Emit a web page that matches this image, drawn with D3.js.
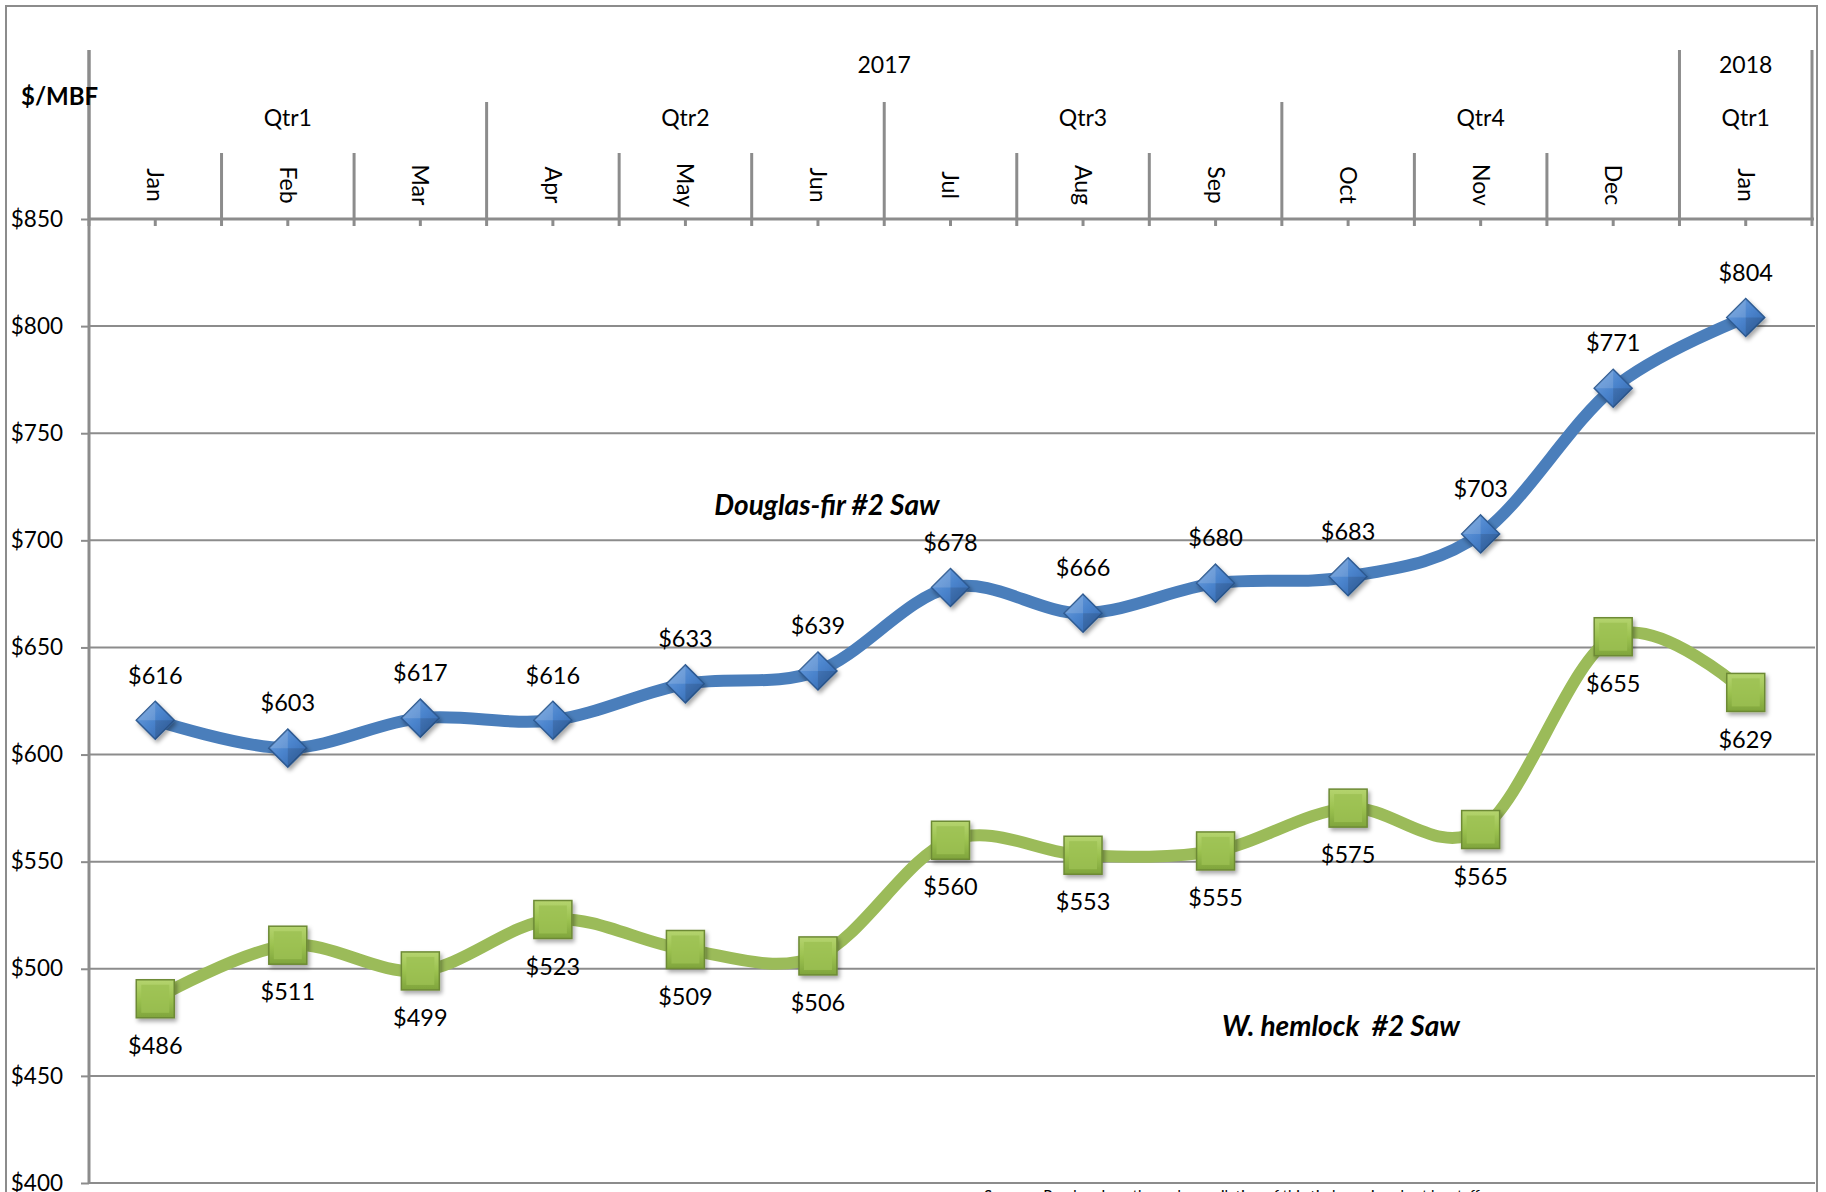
<!DOCTYPE html>
<html>
<head>
<meta charset="utf-8">
<script src="https://cdn.jsdelivr.net/npm/d3@7"></script>
<style>
  html, body { margin: 0; padding: 0; background: #fff; }
  svg { display: block; font-family: Lato, "Open Sans", sans-serif; }
</style>
</head>
<body>
<svg id="chart" width="1826" height="1192"></svg>
<script>
// ---- data ----
const months = ["Jan","Feb","Mar","Apr","May","Jun","Jul","Aug","Sep","Oct","Nov","Dec","Jan"];
const quarterLabels = ["Qtr1","Qtr2","Qtr3","Qtr4","Qtr1"];
const quarterStarts = [0,3,6,9,12];
const quarterSpans  = [3,3,3,3,1];
const yearLabels = ["2017","2018"];
const yearStarts = [0,12];
const yearSpans  = [12,1];
const douglasFir = [616,603,617,616,633,639,678,666,680,683,703,771,804];
const hemlock    = [486,511,499,523,509,506,560,553,555,575,565,655,629];
const yTicks = [400,450,500,550,600,650,700,750,800,850];
const seriesNames = ["Douglas-fir #2 Saw","W. hemlock  #2 Saw"];
const sourceNote = "Sources: Random Lengths and compilation of this timber price chart by staff";

// ---- layout ----
const svg = d3.select("#chart");
const pLeft = 89, pRight = 1812, pTop = 219, pBottom = 1183;
const gridRight = 1815;
const x = d3.scaleBand().domain(d3.range(months.length)).range([pLeft, pRight]);
const y = d3.scaleLinear().domain([400, 850]).range([pBottom, pTop]);
const bw = x.bandwidth();
const cx = i => x(i) + bw / 2;
const gray = "#8c8c8c";
const fs = 23;

// defs
const defs = svg.append("defs");
const sh = defs.append("filter").attr("id","shadow").attr("x","-50%").attr("y","-50%").attr("width","200%").attr("height","200%");
sh.append("feDropShadow").attr("dx",2).attr("dy",3).attr("stdDeviation",2.2).attr("flood-color","#000").attr("flood-opacity",0.35);
const gb = defs.append("linearGradient").attr("id","gBlue").attr("x1","0").attr("y1","0").attr("x2","1").attr("y2","1");
gb.append("stop").attr("offset","0").attr("stop-color","#6fa2e0");
gb.append("stop").attr("offset","0.5").attr("stop-color","#4a83cc");
gb.append("stop").attr("offset","1").attr("stop-color","#2f62a6");
const gg = defs.append("linearGradient").attr("id","gGreen").attr("x1","0").attr("y1","0").attr("x2","0").attr("y2","1");
gg.append("stop").attr("offset","0").attr("stop-color","#b5d46f");
gg.append("stop").attr("offset","0.5").attr("stop-color","#9cc250");
gg.append("stop").attr("offset","1").attr("stop-color","#7fa43c");

// outer border
svg.append("rect").attr("x",6).attr("y",6).attr("width",1811).attr("height",1200)
  .attr("fill","none").attr("stroke",gray).attr("stroke-width",2);

// gridlines
svg.append("g").selectAll("line").data(yTicks.filter(v => v !== 850)).join("line")
  .attr("x1", pLeft).attr("x2", gridRight)
  .attr("y1", d => y(d)).attr("y2", d => y(d))
  .attr("stroke", gray).attr("stroke-width", 2);

// y axis
const yAxis = svg.append("g").attr("transform", `translate(${pLeft},0)`)
  .call(d3.axisLeft(y).tickValues(yTicks).tickSize(8).tickPadding(18).tickFormat(d => "$" + d));
yAxis.select(".domain").remove();
yAxis.selectAll(".tick line").attr("stroke", gray).attr("stroke-width", 2);
yAxis.selectAll(".tick text").attr("font-family","Lato, 'Open Sans', sans-serif").attr("font-size", 22.5).attr("fill","#000");
svg.append("line").attr("x1",pLeft).attr("x2",pLeft).attr("y1",50).attr("y2",pBottom)
  .attr("stroke",gray).attr("stroke-width",3);

// category header axis
svg.append("line").attr("x1",pLeft).attr("x2",pRight+2).attr("y1",pTop).attr("y2",pTop)
  .attr("stroke",gray).attr("stroke-width",3);
const boundaries = d3.range(months.length + 1);
svg.append("g").selectAll("line").data(boundaries).join("line")
  .attr("x1", b => b < months.length ? x(b) : pRight)
  .attr("x2", b => b < months.length ? x(b) : pRight)
  .attr("y1", b => (yearStarts.includes(b) || b === months.length) ? 50 : (quarterStarts.includes(b) ? 102 : 153))
  .attr("y2", pTop + 7)
  .attr("stroke", gray).attr("stroke-width", 3);
svg.append("g").selectAll("line").data(d3.range(months.length)).join("line")
  .attr("x1", i => cx(i)).attr("x2", i => cx(i)).attr("y1", pTop).attr("y2", pTop + 7)
  .attr("stroke", gray).attr("stroke-width", 3);

// month labels (rotated)
svg.append("g").selectAll("text").data(months).join("text")
  .attr("transform", (d,i) => `translate(${cx(i)},185) rotate(90)`)
  .attr("text-anchor","middle").attr("dy","0.35em")
  .attr("font-size",fs).attr("fill","#000").text(d => d);
// quarter labels
svg.append("g").selectAll("text").data(quarterLabels).join("text")
  .attr("x", (d,i) => x(quarterStarts[i]) + bw * quarterSpans[i] / 2).attr("y", 118)
  .attr("text-anchor","middle").attr("dy","0.35em")
  .attr("font-size",fs).attr("fill","#000").text(d => d);
// year labels
svg.append("g").selectAll("text").data(yearLabels).join("text")
  .attr("x", (d,i) => x(yearStarts[i]) + bw * yearSpans[i] / 2).attr("y", 65)
  .attr("text-anchor","middle").attr("dy","0.35em")
  .attr("font-size",fs).attr("fill","#000").text(d => d);

// unit label
svg.append("text").attr("x",21).attr("y",97).attr("dy","0.35em")
  .attr("font-size",24).attr("font-weight","bold").attr("fill","#000").text("$/MBF");

// lines
const line = d3.line().x((d,i) => cx(i)).y(d => y(d)).curve(d3.curveCardinal.tension(0));
svg.append("path").datum(hemlock).attr("d", line).attr("fill","none")
  .attr("stroke","#9bbb59").attr("stroke-width",12).attr("stroke-linejoin","round");
svg.append("path").datum(douglasFir).attr("d", line).attr("fill","none")
  .attr("stroke","#4a7ebb").attr("stroke-width",12).attr("stroke-linejoin","round");

// diamond markers
const r = 19;
const dg = svg.append("g").selectAll("g").data(douglasFir).join("g")
  .attr("transform", (d,i) => `translate(${cx(i)},${y(d)})`);
dg.append("path").attr("d", `M0,${-r}L${r},0L0,${r}L${-r},0Z`)
  .attr("fill","url(#gBlue)").attr("stroke","#2d5a92").attr("stroke-width",1.5).attr("filter","url(#shadow)");
dg.append("path").attr("d", `M0,${-r}L${-r},0L0,0Z`).attr("fill","#ffffff").attr("opacity",0.15);
dg.append("path").attr("d", `M0,${r}L${r},0L0,0Z`).attr("fill","#000").attr("opacity",0.12);

// square markers
const s = 19;
const sg = svg.append("g").selectAll("g").data(hemlock).join("g")
  .attr("transform", (d,i) => `translate(${cx(i)},${y(d)})`);
sg.append("rect").attr("x",-s).attr("y",-s).attr("width",2*s).attr("height",2*s)
  .attr("fill","url(#gGreen)").attr("stroke","#6d8a35").attr("stroke-width",1.5).attr("filter","url(#shadow)");
sg.append("rect").attr("x",-s+5).attr("y",-s+5).attr("width",2*s-10).attr("height",2*s-10)
  .attr("fill","#9cc052").attr("opacity",0.8);

// value labels
svg.append("g").selectAll("text").data(douglasFir).join("text")
  .attr("x",(d,i) => cx(i)).attr("y", d => y(d) - 45).attr("dy","0.35em")
  .attr("text-anchor","middle").attr("font-size",fs+0.5).attr("fill","#000").text(d => "$" + d);
svg.append("g").selectAll("text").data(hemlock).join("text")
  .attr("x",(d,i) => cx(i)).attr("y", d => y(d) + 47).attr("dy","0.35em")
  .attr("text-anchor","middle").attr("font-size",fs+0.5).attr("fill","#000").text(d => "$" + d);

// series names
svg.append("text").attr("x",827).attr("y",505).attr("dy","0.35em").attr("text-anchor","middle")
  .attr("font-size",28).attr("font-weight","bold").attr("font-style","italic").attr("fill","#000")
  .text(seriesNames[0]);
svg.append("text").attr("x",1341).attr("y",1026).attr("dy","0.35em").attr("text-anchor","middle")
  .attr("font-size",28).attr("font-weight","bold").attr("font-style","italic").attr("fill","#000")
  .style("white-space","pre").text(seriesNames[1]);

// source note (cut off at bottom, as in the original)
svg.append("text").attr("x",984).attr("y",1201).attr("font-size",15).attr("fill","#000").text(sourceNote);
</script>
</body>
</html>
